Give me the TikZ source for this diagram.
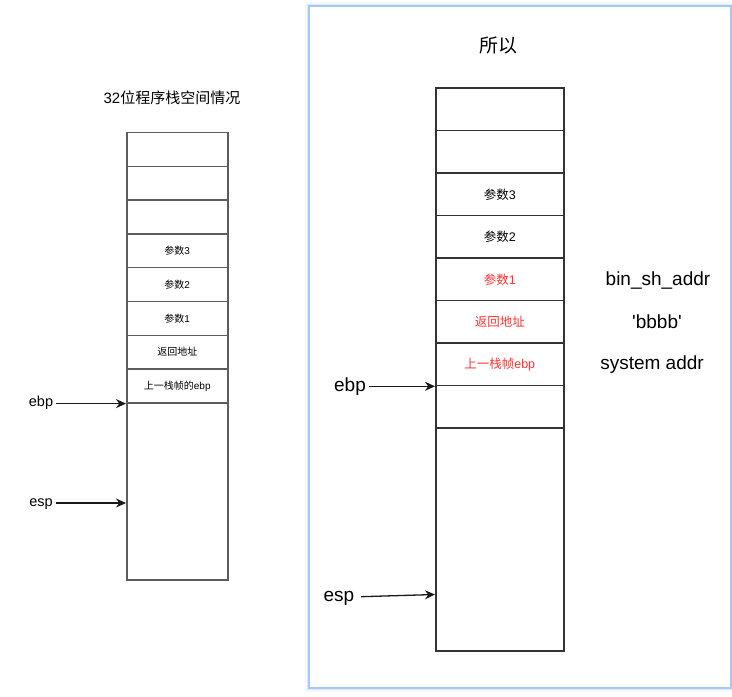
\documentclass[tikz,border=0pt]{standalone}
\usepackage{fontspec}
\setmainfont{Liberation Sans}
\newfontfamily\rawfont{Liberation Sans}
\newfontfamily\cjk{Noto Sans CJK SC}
\usetikzlibrary{arrows.meta,positioning}
\definecolor{stackline}{HTML}{333333}
\definecolor{redtxt}{HTML}{FF3333}
\definecolor{panelblue}{HTML}{A6C8F5}
\tikzset{
  lcell/.style={draw=stackline!80!white, line width=1.5pt, minimum width=101pt, minimum height=33.8pt, inner sep=0pt, anchor=north west, font=\fontsize{10}{12}\selectfont},
  rcell/.style={draw=stackline, line width=1.5pt, minimum width=128pt, minimum height=42.5pt, inner sep=0pt, anchor=north west, font=\fontsize{12.5}{15}\selectfont},
  lbig/.style={draw=stackline!80!white, line width=1.5pt, minimum width=101pt, minimum height=177pt, inner sep=0pt, anchor=north west},
  rbig/.style={draw=stackline, line width=1.5pt, minimum width=128pt, minimum height=223pt, inner sep=0pt, anchor=north west},
  ptr/.style={draw=black!90, line width=1.3pt, -{Stealth[length=10pt,width=9pt]}},
  llabel/.style={inner sep=3pt, font=\fontsize{14.5}{17}\selectfont},
  rlabel/.style={inner sep=3pt, font=\fontsize{19}{22}\selectfont},
  redcell/.style={text=redtxt}
}
\begin{document}
\begin{tikzpicture}[x=1pt,y=-1pt]
\useasboundingbox (0,0) rectangle (732,697);
\fill[white] (0,0) rectangle (732,697);
% right panel with glow
\draw[panelblue, opacity=0.12, line width=8pt] (309,6) rectangle (730.5,687.5);
\draw[panelblue, opacity=0.25, line width=5pt] (309,6) rectangle (730.5,687.5);
\draw[panelblue, line width=2pt] (309,6) rectangle (730.5,687.5);
\fill[white] (310,7) rectangle (729.5,686.5);

% ---------- left stack ----------
\node[font=\fontsize{15}{18}\selectfont] (ltitle) at (172,98) {32{\cjk 位程序栈空间情况}};
\node[lcell] (L1) at (126,131.7) {};
\node[lcell] (L2) at (126,165.5) {};
\node[lcell] (L3) at (126,199.3) {};
\node[lcell] (L4) at (126,233.1) {{\cjk 参数}3};
\node[lcell] (L5) at (126,266.9) {{\cjk 参数}2};
\node[lcell] (L6) at (126,300.7) {{\cjk 参数}1};
\node[lcell] (L7) at (126,334.5) {{\cjk 返回地址}};
\node[lcell] (L8) at (126,368.3) {{\cjk 上一栈帧的}ebp};
\node[lbig] (LB) at (126,402.1) {};
\node[llabel] (ebpL) at (41,403) {ebp};
\node[llabel] (espL) at (41,504) {esp};
\draw[ptr] (L8.south west -| ebpL.east) -- (L8.south west);
\coordinate (espLT) at (126,503);
\draw[ptr] (espLT -| espL.east) -- (espLT);

% ---------- right stack ----------
\node[font=\fontsize{19}{22}\selectfont] (rtitle) at (498,45) {{\cjk 所以}};
\node[rcell] (R1) at (435,87.3) {};
\node[rcell] (R2) at (435,129.8) {};
\node[rcell] (R3) at (435,172.3) {{\cjk 参数}3};
\node[rcell] (R4) at (435,214.8) {{\cjk 参数}2};
\node[rcell,redcell] (R5) at (435,257.3) {{\cjk 参数}1};
\node[rcell,redcell] (R6) at (435,299.8) {{\cjk 返回地址}};
\node[rcell,redcell] (R7) at (435,342.3) {{\cjk 上一栈帧}ebp};
\node[rcell] (R8) at (435,384.8) {};
\node[rbig] (RB) at (435,427.3) {};
\node[rlabel] (ebpR) at (350,386.5) {ebp};
\node[rlabel] (espR) at (339,598) {esp};
\coordinate (espT) at (435,594.5);
\coordinate (espS) at (361,596.7);
\draw[ptr] (R7.south west -| ebpR.east) -- (R7.south west);
\draw[ptr] (espS) -- (espT);
\node[rlabel] (binsh) at (658,280) {bin\_sh\_addr};
\node[rlabel] (bbbb) at (657,322) {{\rawfont 'bbbb'}};
\node[rlabel] (sysaddr) at (652,365) {system addr};
\end{tikzpicture}
\end{document}
